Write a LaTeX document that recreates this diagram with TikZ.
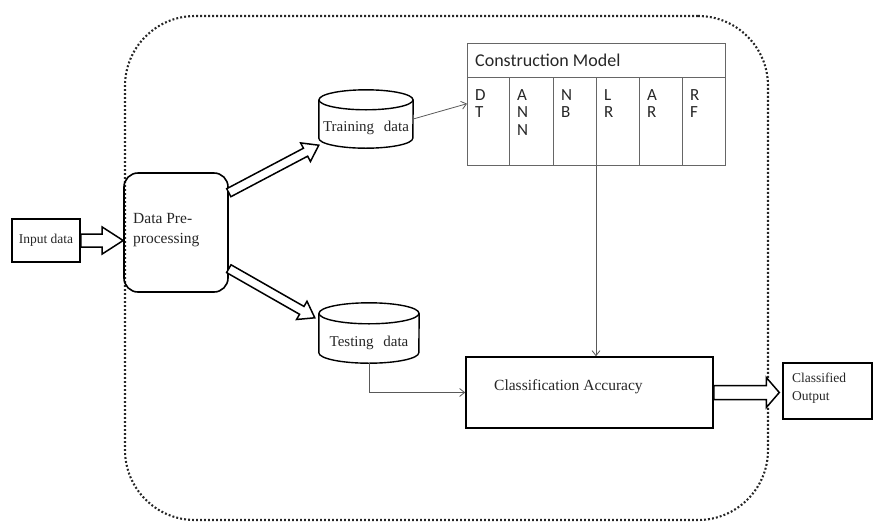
\documentclass[tikz,border=0pt]{standalone}
\usepackage{fontspec}
\setmainfont{Liberation Serif}
\newfontfamily\calib{Carlito}
\usetikzlibrary{calc,arrows.meta}
\newcommand{\harrow}[5]{%
  \coordinate (hA) at (#1); \coordinate (hB) at (#2);
  \coordinate (hH) at ($(hB)!#5!(hA)$);
  \draw[hollowline] ($(hA)!#3!90:(hB)$) -- ($(hH)!#3!-90:(hA)$) -- ($(hH)!#4!-90:(hA)$) -- (hB)
    -- ($(hH)!#4!90:(hA)$) -- ($(hH)!#3!90:(hA)$) -- ($(hA)!#3!-90:(hB)$) -- cycle;}
\begin{document}
\begin{tikzpicture}[x=1pt,y=-1pt,
  box/.style={draw=black, line width=1.6pt, inner sep=0pt},
  thinarrow/.style={draw=black!65, line width=0.8pt, -{Straight Barb[length=5pt,width=8pt]}},
  tline/.style={draw=black!60, line width=0.9pt, inner sep=0pt},
  cylline/.style={draw=black, line width=1.4pt},
  hollowline/.style={draw=black, line width=1.5pt, fill=white, line join=miter},
  txt/.style={inner sep=0pt, align=left, text=black!85},
  coltxt/.style={txt, anchor=north west, font=\calib\fontsize{17}{17.5}\selectfont},
  ]
\useasboundingbox (0,0) rectangle (873,523);

% dotted frame
\node[draw=black!85, line width=2.1pt, dash pattern=on 1.9pt off 2.1pt, rounded corners=70pt,
      minimum width=643pt, minimum height=504pt, inner sep=0pt] (frame) at (446.5,268) {};

% input
\node[box, line width=1.5pt, minimum width=68pt, minimum height=43pt, text=black!85,
      font=\fontsize{13.5}{16}\selectfont] (in) at (46,240.5) {Input data};

% pre-processing
\node[box, rounded corners=14pt, minimum width=104pt, minimum height=119pt] (pre) at (176,232.5) {};
\node[txt, anchor=west, font=\fontsize{15.5}{20}\selectfont] (pret) at (133,230) {Data Pre-\\processing};

% training cylinder
\node[minimum width=94pt, minimum height=58pt, inner sep=0pt] (train) at (366,119) {};
\draw[cylline] ([yshift=-10pt]train.north) ellipse [x radius=47pt, y radius=10pt];
\draw[cylline] ([yshift=-10pt]train.north west) -- ([yshift=10pt]train.south west)
  arc[start angle=180, end angle=360, x radius=47pt, y radius=10pt] -- ([yshift=-10pt]train.north east);
\node[txt, font=\fontsize{15}{18}\selectfont] (traint) at (366,128) {Training\hspace{0.4em} data};

% testing cylinder
\node[minimum width=100pt, minimum height=60pt, inner sep=0pt] (test) at (369,333) {};
\draw[cylline] ([yshift=-10.5pt]test.north) ellipse [x radius=50pt, y radius=10.5pt];
\draw[cylline] ([yshift=-10.5pt]test.north west) -- ([yshift=10.5pt]test.south west)
  arc[start angle=180, end angle=360, x radius=50pt, y radius=10.5pt] -- ([yshift=-10.5pt]test.north east);
\node[txt, font=\fontsize{15}{18}\selectfont] (testt) at (369,343) {Testing\hspace{0.4em} data};

% construction model table
\node[tline, minimum width=258pt, minimum height=34pt, anchor=north west] (hdr) at (467,43) {};
\node[txt, anchor=west, font=\calib\fontsize{18}{20}\selectfont] (hdrt) at (475,60) {Construction Model};
\foreach \i/\xl/\w/\t in {1/467/42/{D\\T}, 2/509/44/{A\\N\\N}, 3/553/43/{N\\B}, 4/596/43/{L\\R}, 5/639/43/{A\\R}, 6/682/43/{R\\F}}{
  \node[tline, minimum width=\w pt, minimum height=88pt, anchor=north west] (c\i) at (\xl,77) {};
  \node[coltxt] (t\i) at (\xl+8,89) {\t};
}

% classification accuracy
\node[box, minimum width=247pt, minimum height=71pt] (cls) at (589.5,392.5) {};
\node[txt, anchor=west, font=\fontsize{15.5}{18}\selectfont] (clst) at (494,387) {Classification Accuracy};

% classified output
\node[box, line width=1.4pt, minimum width=89pt, minimum height=56pt] (out) at (827.5,391) {};
\node[txt, anchor=west, font=\fontsize{13.5}{18}\selectfont] (outt) at (792,388) {Classified\\Output};

% thin connectors
\draw[thinarrow] (train.east) -- ($(c1.north west)!0.3!(c1.south west)$);
\draw[thinarrow] (c4.south west) -- (c4.south west |- cls.north);
\draw[thinarrow] (test.south) |- (cls.west);

% hollow block arrows
\coordinate (a1s) at (in.east);
\coordinate (a1e) at (pre.west |- in.east);
\harrow{a1s}{a1e}{6.5pt}{13.5pt}{21pt}
\coordinate (a2s) at ($(pre.north east)!0.17!(pre.south east)$);
\coordinate (a2e) at ([yshift=3pt]train.south west);
\harrow{a2s}{a2e}{4.5pt}{10.5pt}{15pt}
\coordinate (a3s) at ($(pre.north east)!0.8!(pre.south east)$);
\coordinate (a3e) at ([xshift=-4pt,yshift=-15pt]test.north west);
\harrow{a3s}{a3e}{4.5pt}{10.5pt}{15pt}
\coordinate (a4s) at (cls.east);
\coordinate (a4e) at ($(cls.east -| out.west)+(-3,0)$);
\harrow{a4s}{a4e}{7pt}{15pt}{13pt}
\end{tikzpicture}
\end{document}
